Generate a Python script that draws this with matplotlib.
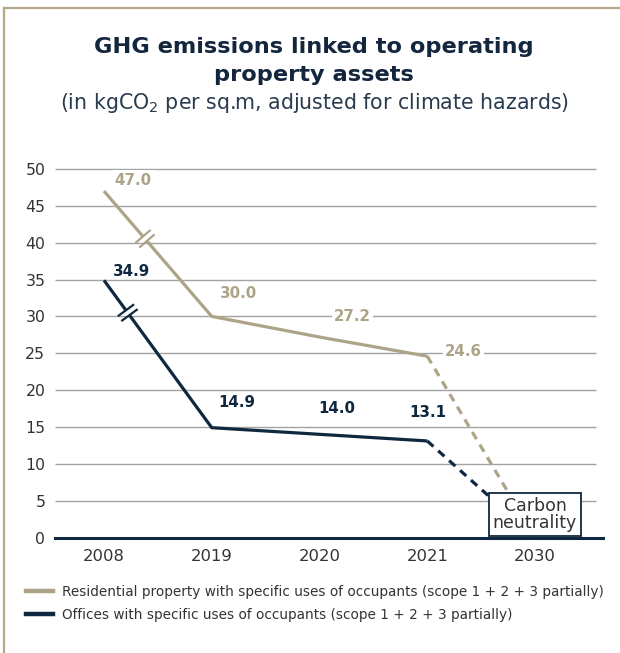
import numpy as np
import matplotlib
matplotlib.use("Agg")
import matplotlib.pyplot as plt
from matplotlib.lines import Line2D

# dados
years = ["2008", "2019", "2020", "2021", "2030"]
residential = [47.0, 30.0, 27.2, 24.6, 0.0]
offices = [34.9, 14.9, 14.0, 13.1, 0.0]
res_labels = ["47.0", "30.0", "27.2", "24.6"]
off_labels = ["34.9", "14.9", "14.0", "13.1"]
yticks = [0, 5, 10, 15, 20, 25, 30, 35, 40, 45, 50]

beige = "#ada488"
navy = "#10283f"
grid_c = "#a3a3a3"
text_c = "#333333"

plt.rcParams["font.family"] = ["DejaVu Sans"]
plt.rcParams["mathtext.default"] = "regular"

W, H = 620, 653
fig = plt.figure(figsize=(W / 100, H / 100), dpi=100)

def px(x, y):
    return x / W, 1 - y / H

# eixo: 0 -> y=537.5 px, 7.37 px por unidade
y0, ppu = 537.5, 7.37
ymax = 52
x_left, x_right = 55, 603
x_first, spacing = 104, 107.75
ax = fig.add_axes([x_left / W, 1 - y0 / H, (x_right - x_left) / W, ymax * ppu / H])
ax.set_xlim((x_left - x_first) / spacing, (x_right - x_first) / spacing)
ax.set_ylim(0, ymax)
for s in ax.spines.values():
    s.set_visible(False)

x = np.arange(len(years))
grid_end = (596 - x_first) / spacing
ax.hlines(yticks[1:], ax.get_xlim()[0], grid_end, color=grid_c, lw=1, zorder=1)
ax.axhline(0, color=navy, lw=2.2, zorder=5, clip_on=False)

ax.set_yticks(yticks)
ax.set_yticklabels([str(v) for v in yticks], fontsize=11.3, color=text_c)
ax.set_xticks(x)
ax.set_xticklabels(years, fontsize=11.8, color=text_c)
ax.tick_params(length=0)
ax.tick_params(axis="y", pad=7)
ax.tick_params(axis="x", pad=8)

# linhas
ax.plot(x[:4], residential[:4], color=beige, lw=2.3, zorder=3, solid_capstyle="butt")
ax.plot(x[:4], offices[:4], color=navy, lw=2.3, zorder=3, solid_capstyle="butt")
ax.plot(x[3:], residential[3:], color=beige, lw=2.3, ls=(0, (2.6, 2.0)), zorder=2)
ax.plot(x[3:], offices[3:], color=navy, lw=2.3, ls=(0, (2.6, 2.0)), zorder=2)

# marcas de quebra no primeiro segmento
def quebra(yvals, t, color):
    tr = ax.transData
    p0 = tr.transform((x[0], yvals[0]))
    p1 = tr.transform((x[1], yvals[1]))
    u = (p1 - p0) / np.linalg.norm(p1 - p0)
    n = np.array([-u[1], u[0]])
    m = p0 + t * (p1 - p0)
    inv = tr.inverted()
    g = inv.transform([m - 3 * u, m + 3 * u])
    ax.plot(g[:, 0], g[:, 1], color="white", lw=4, zorder=4, solid_capstyle="butt")
    for s in (-3, 3):
        c = m + s * u
        seg = inv.transform([c - 9 * n, c + 9 * n])
        ax.plot(seg[:, 0], seg[:, 1], color=color, lw=1.6, zorder=4)

quebra(residential, 0.38, beige)
quebra(offices, 0.22, navy)

# rótulos de valores (offset em px)
res_off = [(29, 11), (27, 23), (33, 21), (36, 5)]
off_off = [(28, 9), (25, 25), (17, 26), (1, 28)]
for i, (lab, (dx, dy)) in enumerate(zip(res_labels, res_off)):
    ax.annotate(lab, (x[i], residential[i]), xytext=(dx * 0.72, dy * 0.72),
                textcoords="offset points", ha="center", va="center",
                fontsize=10.8, fontweight="bold", color=beige, zorder=6,
                bbox=dict(boxstyle="square,pad=0.15", fc="white", ec="none"))
for i, (lab, (dx, dy)) in enumerate(zip(off_labels, off_off)):
    ax.annotate(lab, (x[i], offices[i]), xytext=(dx * 0.72, dy * 0.72),
                textcoords="offset points", ha="center", va="center",
                fontsize=10.8, fontweight="bold", color=navy, zorder=6)

ax.text(x[4], 3.1, "Carbon\nneutrality", ha="center", va="center", fontsize=12.5,
        color=text_c, linespacing=0.95, zorder=7,
        bbox=dict(boxstyle="square,pad=0.22", fc="white", ec=navy, lw=1.3))

# títulos
fig.text(*px(314, 47), "GHG emissions linked to operating", ha="center", va="center",
         fontsize=16.2, fontweight="bold", color="#13263d")
fig.text(*px(314, 75), "property assets", ha="center", va="center",
         fontsize=16.2, fontweight="bold", color="#13263d")
fig.text(*px(314, 103), "(in kgCO$_2$ per sq.m, adjusted for climate hazards)",
         ha="center", va="center", fontsize=14.8, color="#2a3b4f")

# legenda
handles = [Line2D([], [], color=beige, lw=3.2), Line2D([], [], color=navy, lw=3.2)]
labels = ["Residential property with specific uses of occupants (scope 1 + 2 + 3 partially)",
          "Offices with specific uses of occupants (scope 1 + 2 + 3 partially)"]
fig.legend(handles, labels, loc="upper left", bbox_to_anchor=px(26, 585), frameon=False,
           fontsize=9.8, borderpad=0, borderaxespad=0, handlelength=1.95,
           handletextpad=0.7, labelspacing=0.68, labelcolor=text_c)

# moldura
fig.add_artist(Line2D([4 / W, 1], [1 - 8 / H, 1 - 8 / H], color="#b3a888", lw=1.6))
fig.add_artist(Line2D([4 / W, 4 / W], [1 - 8 / H, 0], color="#b3a888", lw=1.6))

fig.savefig("out.png", dpi=100)
